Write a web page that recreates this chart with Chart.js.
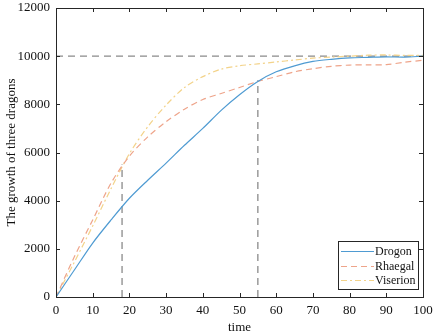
<!DOCTYPE html>
<html>
<head>
<meta charset="utf-8">
<script src="https://cdn.jsdelivr.net/npm/chart.js@4"></script>
<style>
  html, body { margin: 0; padding: 0; background: #fff; }
  #wrap { width: 435px; height: 335px; }
</style>
</head>
<body>
<div id="wrap"><canvas id="chart" width="435" height="335"></canvas></div>
<script>
/* Values, every 5 time units. */
const time = [0, 5, 10, 15, 20, 25, 30, 35, 40, 45, 50, 55, 60, 65, 70, 75, 80, 85, 90, 95, 100]
const drogon = [0, 1120, 2240, 3200, 4100, 4850, 5560, 6300, 7000, 7750, 8400, 8950, 9350, 9600, 9780, 9870, 9930, 9950, 9970, 9960, 10000]
const rhaegal = [0, 1670, 3200, 4730, 5850, 6650, 7280, 7800, 8200, 8450, 8700, 8950, 9150, 9350, 9480, 9580, 9630, 9640, 9650, 9750, 9830]
const viserion = [0, 1450, 2950, 4500, 5950, 7070, 7970, 8700, 9150, 9460, 9600, 9680, 9760, 9840, 9920, 9960, 10000, 10040, 10050, 10030, 10030]

/* Reference lines: target level and the two marked times. */
const target = 10000
const markTimes = [18, 55]
const markValues = [5500, 9000]

const yTicks = [0, 2000, 4000, 6000, 8000, 10000, 12000]
const xTicks = [0, 10, 20, 30, 40, 50, 60, 70, 80, 90, 100]

const toPoints = (xs, ys) => xs.map((x, i) => ({ x, y: ys[i] }))

const axisColor = "#262626"
const font = { family: "'Liberation Serif', 'Times New Roman', serif", size: 13 }

/* Box round the plot with ticks pointing inward, like the original. */
const boxPlugin = {
  id: "box",
  afterDraw(chart) {
    const { ctx, chartArea: a, scales } = chart
    ctx.save()
    ctx.strokeStyle = axisColor
    ctx.lineWidth = 1
    ctx.strokeRect(a.left + 0.5, a.top + 0.5, a.right - a.left, a.bottom - a.top)
    ctx.beginPath()
    xTicks.forEach(v => {
      const px = Math.round(scales.x.getPixelForValue(v)) + 0.5
      ctx.moveTo(px, a.bottom); ctx.lineTo(px, a.bottom - 4)
      ctx.moveTo(px, a.top); ctx.lineTo(px, a.top + 4)
    })
    yTicks.forEach(v => {
      const py = Math.round(scales.y.getPixelForValue(v)) + 0.5
      ctx.moveTo(a.left, py); ctx.lineTo(a.left + 4, py)
      ctx.moveTo(a.right, py); ctx.lineTo(a.right - 4, py)
    })
    ctx.stroke()
    ctx.restore()
  }
}

/* Legend box in the lower right corner of the plot. */
const legendPlugin = {
  id: "cornerLegend",
  afterDraw(chart) {
    const { ctx, chartArea: a } = chart
    const items = chart.data.datasets.filter(d => d.showInLegend)
    const w = 80, rowH = 14.5, h = 48
    const x0 = a.right - w - 5, y0 = a.bottom - h - 8
    ctx.save()
    ctx.fillStyle = "#fff"
    ctx.fillRect(x0, y0, w, h)
    ctx.strokeStyle = axisColor
    ctx.lineWidth = 1
    ctx.strokeRect(x0 + 0.5, y0 + 0.5, w, h)
    ctx.font = "12px " + font.family
    ctx.textBaseline = "middle"
    items.forEach((d, i) => {
      const y = Math.round(y0 + 10 + i * rowH) + 0.5
      ctx.strokeStyle = d.borderColor
      ctx.lineWidth = d.borderWidth
      ctx.setLineDash(d.borderDash || [])
      ctx.beginPath()
      ctx.moveTo(x0 + 3, y); ctx.lineTo(x0 + 36, y)
      ctx.stroke()
      ctx.setLineDash([])
      ctx.fillStyle = "#111"
      ctx.fillText(d.label, x0 + 37, y)
    })
    ctx.restore()
  }
}

const refLine = pts => ({
  data: pts,
  borderColor: "#8a8a8a",
  borderWidth: 1.3,
  borderDash: [7, 5],
  pointRadius: 0,
  fill: false,
  showInLegend: false
})

const chart = new Chart(document.getElementById("chart"), {
  type: "line",
  data: {
    datasets: [
      {
        label: "Drogon",
        data: toPoints(time, drogon),
        borderColor: "#4f9bd2",
        borderWidth: 1.2,
        pointRadius: 0,
        tension: 0.3,
        showInLegend: true
      },
      {
        label: "Rhaegal",
        data: toPoints(time, rhaegal),
        borderColor: "#eea48a",
        borderWidth: 1.2,
        borderDash: [6, 4],
        pointRadius: 0,
        tension: 0.3,
        showInLegend: true
      },
      {
        label: "Viserion",
        data: toPoints(time, viserion),
        borderColor: "#f3d38a",
        borderWidth: 1.2,
        borderDash: [6, 3, 2, 3],
        pointRadius: 0,
        tension: 0.3,
        showInLegend: true
      },
      refLine([{ x: 0, y: target }, { x: 100, y: target }]),
      refLine([{ x: markTimes[0], y: 0 }, { x: markTimes[0], y: markValues[0] }]),
      refLine([{ x: markTimes[1], y: 0 }, { x: markTimes[1], y: markValues[1] }])
    ]
  },
  options: {
    responsive: false,
    animation: false,
    layout: { padding: { top: 8, right: 12, left: 4, bottom: 0 } },
    plugins: {
      legend: { display: false },
      tooltip: { enabled: false }
    },
    scales: {
      x: {
        type: "linear",
        min: 0,
        max: 100,
        afterBuildTicks: s => { s.ticks = xTicks.map(v => ({ value: v })) },
        afterFit: s => { s.height = 38; s.paddingLeft = 0; s.paddingRight = 0 },
        grid: { display: false, drawTicks: false },
        border: { display: false },
        ticks: { color: "#111", font, padding: 6, maxRotation: 0, callback: v => String(v) },
        title: { display: true, text: "time", color: "#111", font, padding: { top: 0, bottom: 0 } }
      },
      y: {
        min: 0,
        max: 12000,
        afterBuildTicks: s => { s.ticks = yTicks.map(v => ({ value: v })) },
        afterFit: s => { s.width = 52; s.paddingTop = 0; s.paddingBottom = 0 },
        grid: { display: false, drawTicks: false },
        border: { display: false },
        ticks: { color: "#111", font, padding: 6, callback: v => String(v) },
        title: { display: true, text: "The growth of three dragons", color: "#111", font, padding: 0 }
      }
    }
  },
  plugins: [boxPlugin, legendPlugin]
})
</script>
</body>
</html>
